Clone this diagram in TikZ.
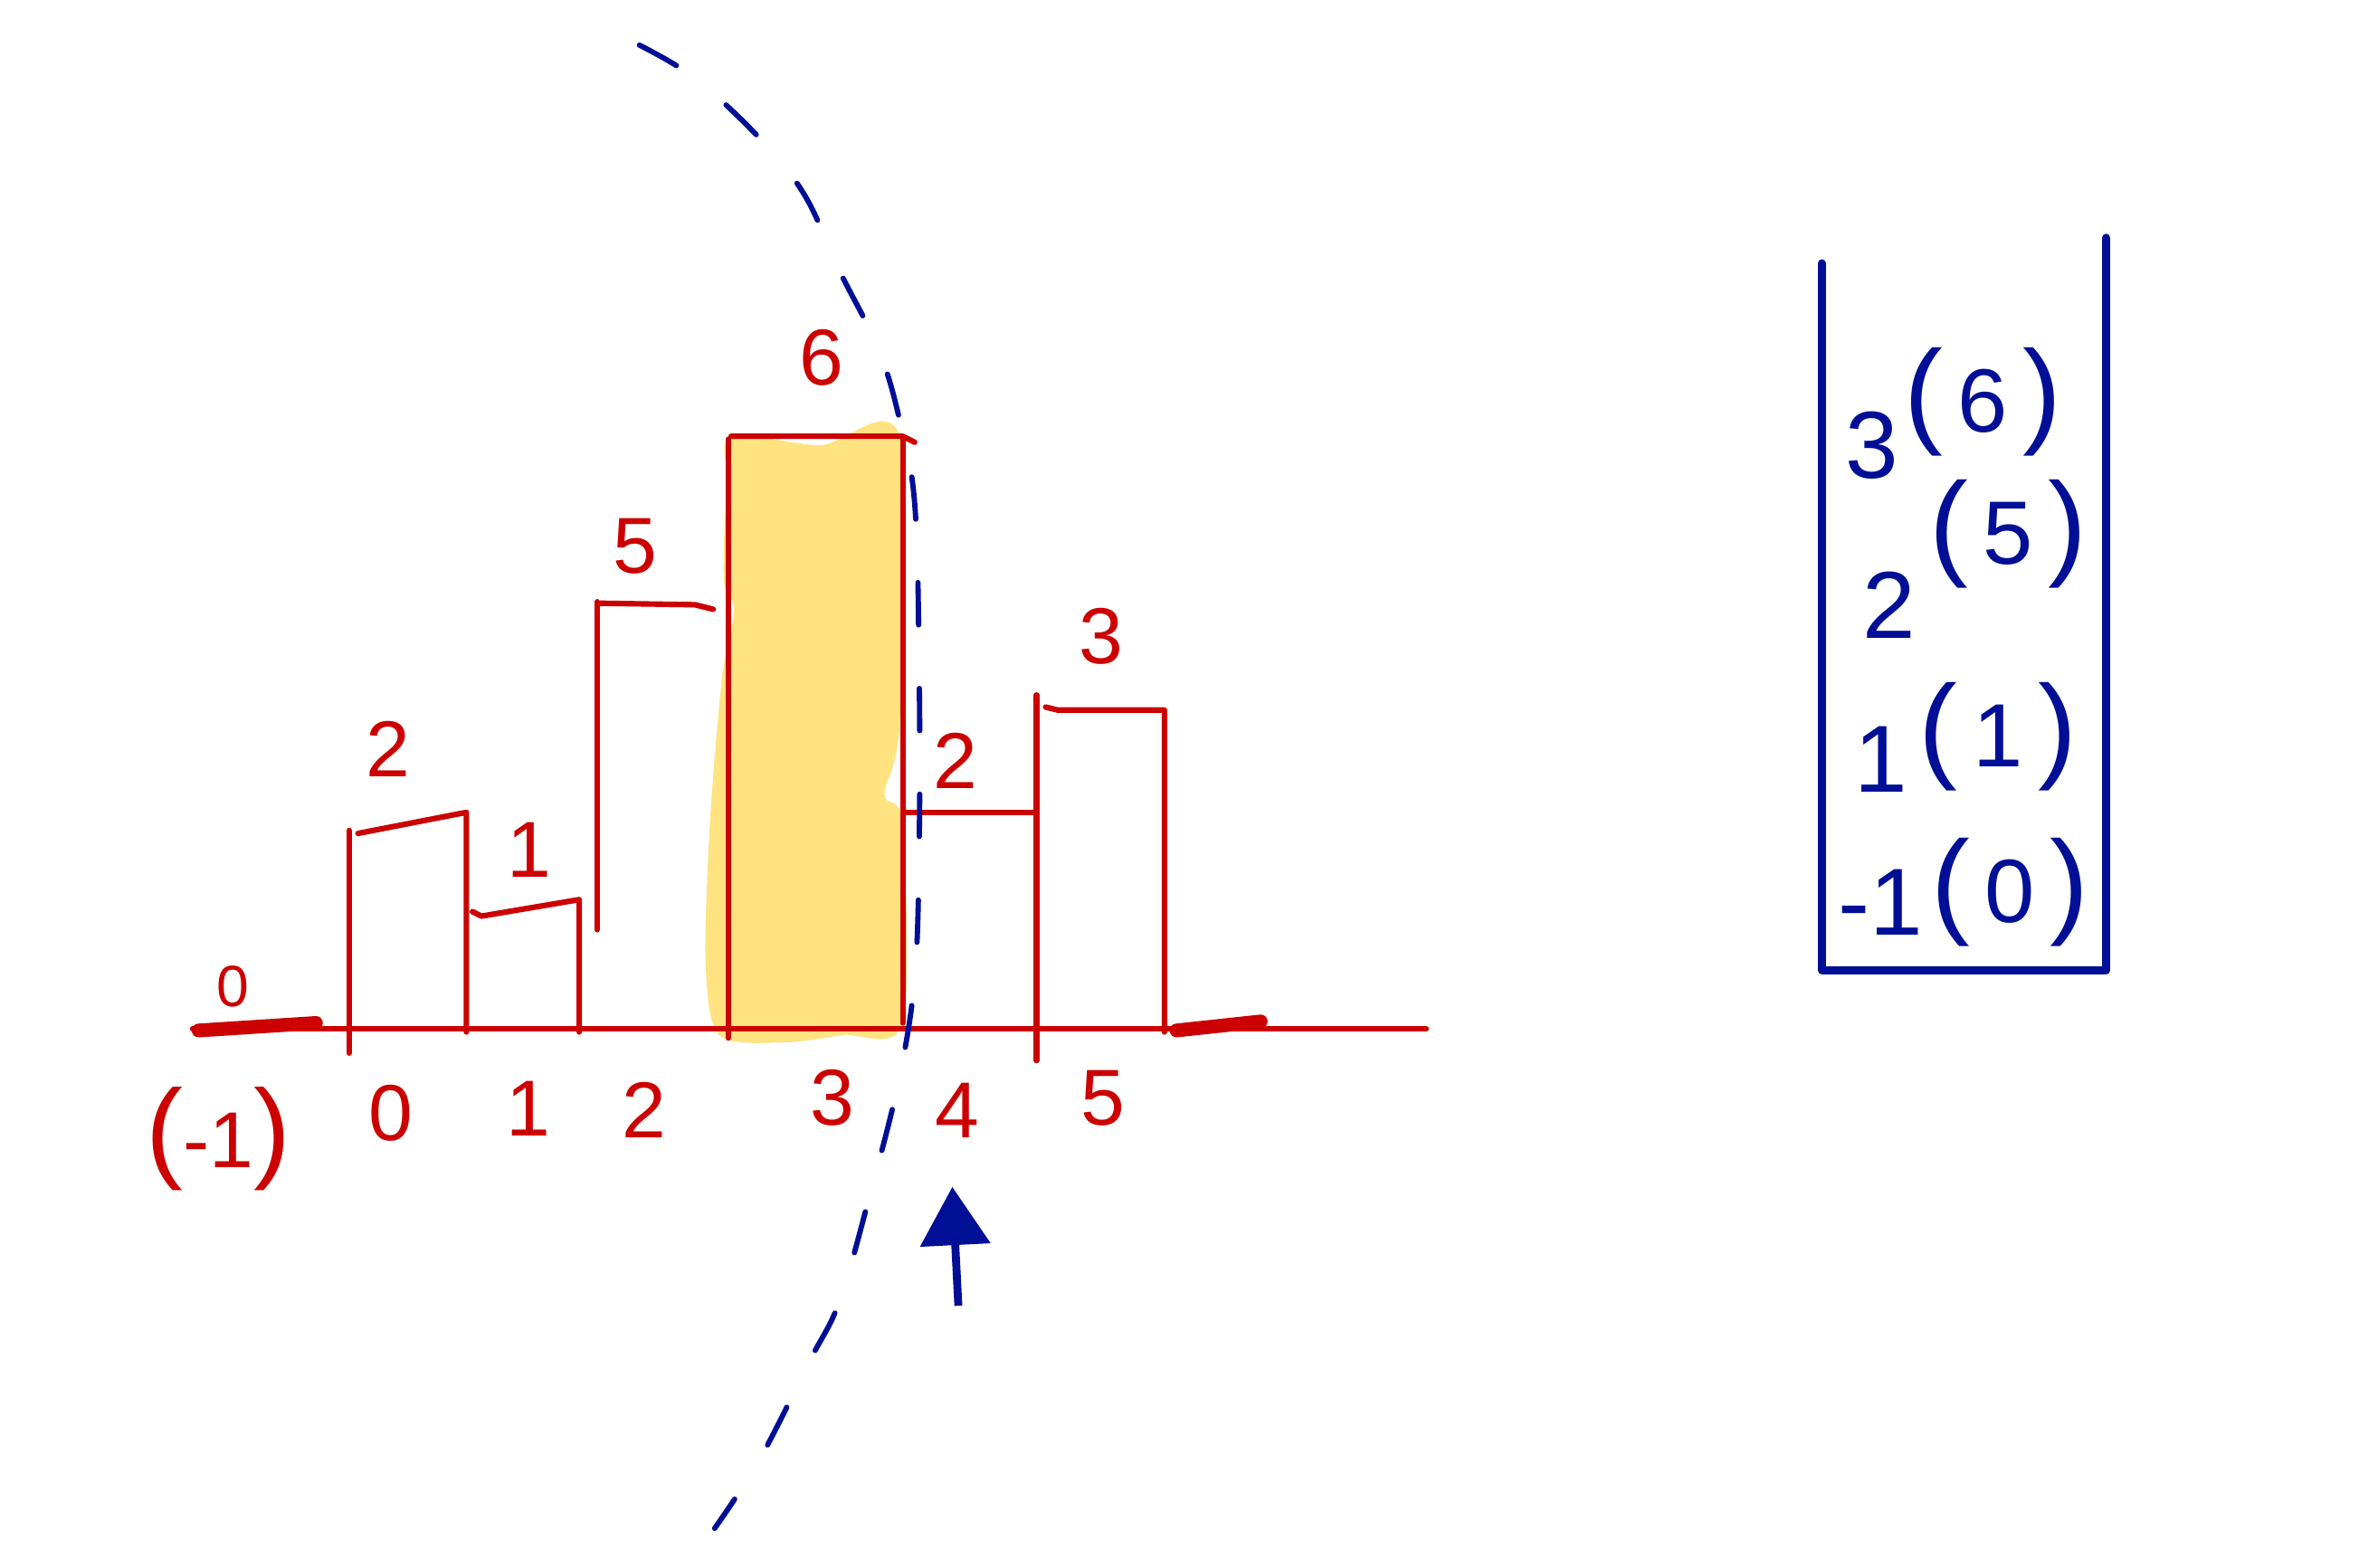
\documentclass[tikz,border=0pt]{standalone}
\usepackage{fontspec}
\setmainfont{Liberation Sans}
\usetikzlibrary{arrows.meta}
\definecolor{hred}{RGB}{204,0,0}
\definecolor{hblue}{RGB}{0,15,150}
\definecolor{hyellow}{RGB}{255,227,128}
\newcommand{\bigpar}[1]{{\fontsize{22}{22}\selectfont(}\,#1\,{\fontsize{22}{22}\selectfont)}}
\begin{document}
\begin{tikzpicture}[x=0.01cm,y=-0.01cm,
  redline/.style={draw=hred,line width=1.05pt,line cap=round,line join=round},
  thickred/.style={draw=hred,line width=2.6pt,line cap=round},
  stackline/.style={draw=hblue,line width=1.5pt,line cap=round,line join=round},
  arcline/.style={draw=hblue,line width=1pt,line cap=round,dash pattern=on 8pt off 12pt},
  rlabel/.style={text=hred,font=\fontsize{15}{15}\selectfont,inner sep=0pt},
  slabel/.style={text=hblue,font=\fontsize{18}{18}\selectfont,inner sep=0pt},
  sparen/.style={text=hblue,font=\fontsize{17}{17}\selectfont,inner sep=0pt}]
\useasboundingbox (0,0) rectangle (1568,1042);
% yellow highlight of bar 3
\fill[hyellow] plot[smooth cycle,tension=0.5] coordinates {(486,290) (545,296) (598,290) (598,480) (588,528) (600,548) (600,680) (560,688) (520,693) (478,688) (469,640) (472,545) (480,450) (488,405) (481,385) (483,320)};
% baseline
\coordinate (b0) at (128,684);
\coordinate (b1) at (948,684);
\draw[redline] (b0) -- (b1);
\draw[thickred] (132,685) -- (210,680);
\draw[thickred] (782,685) -- (838,679);
% bar 0
\draw[redline] (232,552) -- (232,700);
\draw[redline] (238,554) -- (310,540) -- (310,686);
% bar 1
\draw[redline] (314,606) -- (320,609) -- (385,598) -- (385,686);
% bar 2
\draw[redline] (397,618) -- (397,400);
\draw[redline] (399,401) -- (462,402) -- (474,405);
\draw[redline] (484,400) -- (484,420);
% bar 3
\draw[redline] (484,292) -- (484,690);
\draw[redline] (486,290) -- (600,290) -- (608,294);
\draw[redline] (600,292) -- (600,680);
% bar 4
\draw[redline] (601,540) -- (689,540);
\draw[redline] (689,462) -- (689,705);
% bar 5
\draw[redline] (695,470) -- (703,472) -- (774,472) -- (774,686);
% bar value labels
\node[rlabel,font=\fontsize{11}{11}\selectfont] (v0) at (155,656) {0};
\node[rlabel] (v1) at (258,498) {2};
\node[rlabel] (v2) at (352,565) {1};
\node[rlabel] (v3) at (422,363) {5};
\node[rlabel] (v4) at (546,238) {6};
\node[rlabel] (v5) at (635,506) {2};
\node[rlabel] (v6) at (732,423) {3};
% axis labels
\node[rlabel] (a0) at (145,757) {{\fontsize{21}{21}\selectfont(}-1{\fontsize{21}{21}\selectfont)}};
\node[rlabel] (a1) at (260,740) {0};
\node[rlabel] (a2) at (351,737) {1};
\node[rlabel] (a3) at (428,738) {2};
\node[rlabel] (a4) at (553,730) {3};
\node[rlabel] (a5) at (636,738) {4};
\node[rlabel] (a6) at (733,730) {5};
% dashed arc
\draw[arcline] plot[smooth,tension=0.6] coordinates {(425,30) (462,52) (505,92) (535,130) (558,180) (583,230) (597,275) (608,335) (611,450) (611,560) (608,650) (597,720) (578,795) (558,865) (538,905) (505,970) (475,1016)};
% blue arrow
\coordinate (ar0) at (637,868);
\coordinate (ar1) at (633,789);
\draw[draw=hblue,line width=1.5pt,-{Triangle[length=11pt,width=13pt]}] (ar0) -- (ar1);
% stack
\coordinate (s0) at (1211,175);
\coordinate (s1) at (1211,645);
\coordinate (s2) at (1400,645);
\coordinate (s3) at (1400,158);
\draw[stackline] (s0) -- (s1) -- (s2) -- (s3);
\node[slabel] (k3) at (1244,296) {3};
\node[sparen] (p3) at (1318,267) {\bigpar{6}};
\node[slabel] (k2) at (1256,402) {2};
\node[sparen] (p2) at (1335,355) {\bigpar{5}};
\node[slabel] (k1) at (1250,505) {1};
\node[sparen] (p1) at (1328,490) {\bigpar{1}};
\node[slabel] (k0) at (1250,600) {-1};
\node[sparen] (p0) at (1336,593) {\bigpar{0}};
\end{tikzpicture}
\end{document}
